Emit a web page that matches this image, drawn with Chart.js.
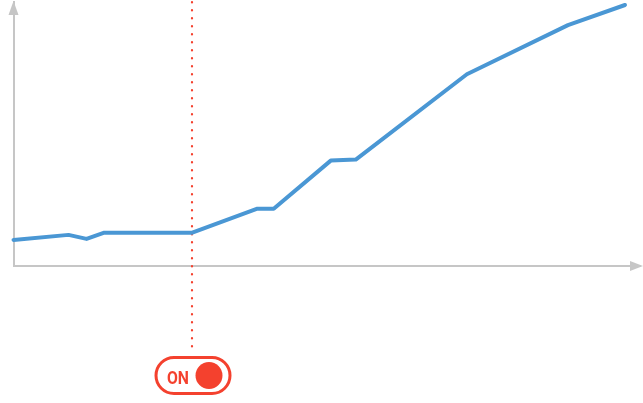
<!DOCTYPE html>
<html><head><meta charset="utf-8">
<script src="https://cdn.jsdelivr.net/npm/chart.js@4"></script>
<style>html,body{margin:0;padding:0;background:#fff}#w{width:643px;height:403px}</style>
</head><body><div id="w"><canvas id="c"></canvas></div>
<script>
const xValues = [0, 55, 73, 90, 178, 243, 260, 317, 342, 453, 554, 611];
const yValues = [26, 31, 27, 33, 33, 57, 57, 105, 106, 191, 240, 260];
const markerValue = 178;
const markerLabel = "ON";

const AXIS = '#c6c6c6', RED = '#f4412e', BLUE = '#4a97d4';

const arrows = {
  id: 'arrows',
  afterDraw(chart) {
    const {ctx, chartArea: a} = chart;
    ctx.save();
    ctx.fillStyle = AXIS;
    ctx.beginPath();
    ctx.moveTo(a.left - 5, a.top + 13);
    ctx.lineTo(a.left + 5, a.top + 13);
    ctx.lineTo(a.left, a.top - 1);
    ctx.closePath(); ctx.fill();
    ctx.beginPath();
    ctx.moveTo(a.right - 10, a.bottom - 5);
    ctx.lineTo(a.right - 10, a.bottom + 5);
    ctx.lineTo(a.right + 3, a.bottom);
    ctx.closePath(); ctx.fill();
    ctx.restore();
  }
};

const marker = {
  id: 'marker',
  beforeDatasetsDraw(chart) {
    const {ctx} = chart;
    const x = Math.round(chart.scales.x.getPixelForValue(markerValue));
    ctx.save();
    ctx.strokeStyle = RED;
    ctx.lineWidth = 2.2;
    ctx.lineCap = 'round';
    ctx.setLineDash([0.5, 7.5]);
    ctx.beginPath();
    ctx.moveTo(x, 2);
    ctx.lineTo(x, 352);
    ctx.stroke();
    ctx.setLineDash([]);
    const cy = 375.5, w = 74, h = 36, l = x - 36, t = cy - h / 2, r = h / 2;
    ctx.lineWidth = 3;
    ctx.fillStyle = '#fff';
    ctx.beginPath();
    ctx.moveTo(l + r, t);
    ctx.lineTo(l + w - r, t);
    ctx.arc(l + w - r, cy, r, -Math.PI / 2, Math.PI / 2);
    ctx.lineTo(l + r, t + h);
    ctx.arc(l + r, cy, r, Math.PI / 2, 3 * Math.PI / 2);
    ctx.closePath();
    ctx.fill(); ctx.stroke();
    ctx.fillStyle = RED;
    ctx.beginPath();
    ctx.arc(x + 17, cy, 13.5, 0, Math.PI * 2);
    ctx.fill();
    ctx.font = 'bold 19px Roboto, "DejaVu Sans"';
    ctx.textAlign = 'center';
    ctx.textBaseline = 'alphabetic';
    const tw = ctx.measureText(markerLabel).width;
    ctx.translate(x - 14, cy + 8.8);
    ctx.scale(22 / tw, 1);
    ctx.fillText(markerLabel, 0, 0);
    ctx.restore();
  }
};

new Chart(document.getElementById('c'), {
  type: 'line',
  data: {
    datasets: [{
      data: xValues.map((x, i) => ({x, y: yValues[i]})),
      borderColor: BLUE,
      borderWidth: 4,
      pointRadius: 0,
      tension: 0,
      borderJoinStyle: 'round',
      borderCapStyle: 'round',
      clip: false
    }]
  },
  options: {
    responsive: true,
    maintainAspectRatio: false,
    animation: false,
    events: [],
    layout: {padding: {left: 13.5, top: 2, right: 3, bottom: 137}},
    plugins: {legend: {display: false}, tooltip: {enabled: false}},
    scales: {
      x: {type: 'linear', min: 0, max: 626, ticks: {display: false}, grid: {display: false, drawTicks: false},
          border: {color: AXIS, width: 2}},
      y: {min: 0, max: 263, ticks: {display: false}, grid: {display: false, drawTicks: false},
          border: {color: AXIS, width: 2}}
    }
  },
  plugins: [marker, arrows]
});
</script>
</body></html>
